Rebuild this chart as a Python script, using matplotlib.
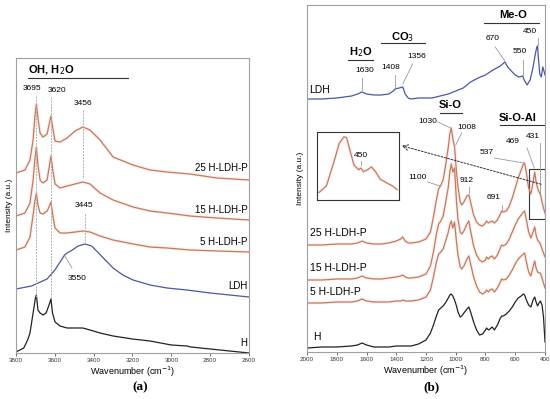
import matplotlib.pyplot as plt
from matplotlib.patches import Rectangle

plt.rcParams['font.family'] = ['Liberation Sans', 'DejaVu Sans']

# ---- panel (a): 3800-2600 cm-1 ----
wn_a = [3800, 3754, 3728, 3712, 3702, 3695, 3687, 3676, 3661, 3640, 3630, 3620, 3609, 3599,
        3573, 3537, 3496, 3456, 3419, 3367, 3300, 3197, 3110, 3022, 2904, 2765, 2600]
a_25 = [180, 183, 193, 213, 238, 249, 235, 220, 216, 219, 228, 237, 223, 212,
        211, 215, 222, 226, 223, 213, 196, 188, 183, 181, 179, 175, 173]
a_15 = [137, 140, 150, 173, 195, 206, 188, 173, 170, 173, 185, 197, 181, 169,
        165, 167, 169, 171, 169, 160, 153, 146, 142, 140, 137, 135, 133]
a_5 = [103, 106, 116, 138, 153, 160, 148, 140, 139, 142, 146, 151, 136, 125,
       120, 120, 121, 122, 121, 117, 113, 109, 106, 105, 103, 102, 101]

wn_a_ldh = [3800, 3720, 3640, 3600, 3573, 3550, 3537, 3510, 3480, 3445, 3410, 3380, 3340,
            3300, 3250, 3197, 3110, 3022, 2920, 2800, 2700, 2600]
a_ldh = [64, 67, 74, 83, 91, 98, 100, 103, 107, 109, 107, 101, 93,
         85, 78, 73, 68, 65, 63, 60, 58, 56]

wn_a_h = [3800, 3760, 3740, 3728, 3712, 3700, 3695, 3687, 3676, 3661, 3645, 3630, 3620, 3612,
          3599, 3573, 3537, 3456, 3419, 3367, 3300, 3200, 3110, 3000, 2920, 2900, 2800, 2700, 2600]
a_h = [1, 5, 13, 20, 40, 55, 58, 43, 40, 38, 40, 48, 54, 40,
       31, 27, 25, 25, 23, 20, 17, 14, 12, 8, 7, 6, 4, 2, 0]

# ---- panel (b): 2000-400 cm-1 ----
wn_b = [2000, 1900, 1800, 1700, 1660, 1630, 1600, 1550, 1500, 1450,
        1400, 1370, 1356, 1340, 1320, 1300, 1250, 1200, 1170, 1150,
        1130, 1115, 1100, 1085, 1070, 1050, 1040, 1030, 1020, 1008,
        995, 985, 970, 960, 945, 925, 912, 900, 880, 860,
        840, 820, 800, 793, 780, 770, 755, 740, 720, 700,
        691, 680, 660, 640, 620, 600, 580, 560, 545, 537,
        525, 510, 495, 480, 469, 460, 450, 440, 431, 420,
        410, 400]
b_25 = [107, 107, 108, 108, 109, 111, 109, 108, 108, 109,
        111, 113, 115, 111, 109, 109, 110, 113, 120, 135,
        152, 163, 167, 172, 185, 205, 218, 224, 214, 205,
        180, 165, 150, 147, 150, 156, 157, 150, 137, 130,
        127, 126, 129, 131, 129, 130, 131, 129, 132, 138,
        141, 140, 141, 146, 154, 164, 174, 182, 188, 189,
        179, 164, 158, 170, 180, 170, 164, 160, 158, 150,
        144, 139]
b_15 = [72, 72, 73, 73, 74, 76, 74, 73, 73, 74,
        75, 76, 77, 75, 74, 74, 75, 78, 86, 100,
        118, 128, 131, 136, 148, 165, 180, 188, 180, 184,
        150, 133, 120, 118, 121, 128, 131, 121, 106, 97,
        92, 90, 92, 95, 93, 95, 96, 93, 97, 104,
        107, 106, 108, 113, 120, 127, 133, 137, 140, 141,
        132, 120, 114, 120, 125, 117, 112, 110, 108, 103,
        99, 95]
b_5 = [49, 49, 50, 50, 51, 53, 51, 50, 50, 50,
       51, 51, 52, 51, 51, 51, 52, 55, 62, 75,
       90, 98, 100, 103, 110, 120, 127, 131, 124, 130,
       110, 97, 85, 83, 86, 93, 96, 88, 75, 66,
       60, 58, 60, 62, 60, 62, 63, 60, 64, 70,
       73, 72, 73, 77, 82, 88, 93, 96, 98, 99,
       90, 80, 76, 85, 91, 84, 80, 79, 79, 74,
       69, 64]
b_h = [4, 5, 5, 6, 7, 9, 7, 5, 5, 5,
       6, 6, 6, 6, 6, 6, 8, 12, 19, 27,
       36, 42, 44, 46, 49, 54, 57, 58, 56, 52,
       46, 40, 35, 36, 39, 43, 45, 40, 30, 22,
       17, 18, 22, 24, 22, 23, 25, 22, 27, 34,
       36, 36, 38, 41, 45, 50, 54, 56, 58, 57,
       52, 47, 45, 52, 55, 50, 46, 49, 51, 47,
       35, 10]

wn_b_ldh = [2000, 1900, 1800, 1700, 1660, 1630, 1600, 1550, 1500, 1450,
            1420, 1408, 1380, 1356, 1340, 1320, 1300, 1250, 1160, 1050,
            950, 900, 850, 800, 750, 700, 670, 650, 620, 600,
            575, 550, 540, 520, 500, 480, 465, 455, 450, 445,
            435, 425, 415, 405, 400]
b_ldh = [253, 253, 254, 256, 258, 260, 258, 257, 257, 258,
         261, 263, 264, 265, 258, 254, 253, 254, 254, 258,
         264, 270, 274, 277, 282, 286, 290, 285, 280, 277,
         275, 276, 272, 267, 272, 285, 298, 305, 306, 295,
         278, 275, 285, 280, 277]

# zoomed detail (25 H-LDH-P, 500-400)
wn_ins = [512, 501, 490, 482, 475, 471, 465, 460, 453, 450, 446, 440, 434, 428, 421, 411, 403, 396]
y_ins = [8, 15, 40, 60, 67, 66, 50, 37, 32, 34, 30, 32, 35, 30, 22, 18, 15, 11]

red = '#c47a5a'
glow = '#f4b4b4'
blue = '#4b56a8'
black = '#222222'
grey = '#9a9a9a'

fig = plt.figure(figsize=(5.5, 3.99), dpi=100)
ax_a = fig.add_axes([0.0291, 0.1153, 0.4236, 0.7393])
ax_b = fig.add_axes([0.5582, 0.1178, 0.4327, 0.8697])


def spectrum(ax, x, y, c, halo=False):
    if halo:
        ax.plot(x, y, color=glow, lw=2.5, alpha=0.2, solid_capstyle='butt')
    ax.plot(x, y, color=c, lw=0.9)


for ax in (ax_a, ax_b):
    ax.set_yticks([])
    ax.tick_params(axis='x', labelsize=4.5, length=2, width=0.5, pad=1.5, colors='#333333')
    for s in ax.spines.values():
        s.set_color('#a0a0a0')
        s.set_linewidth(0.8)
    ax.set_xlabel('Wavenumber (cm$^{-1}$)', fontsize=6.5, labelpad=1)
    ax.set_ylabel('Intensity (a.u.)', fontsize=6, labelpad=2)

# ---------- (a) ----------
spectrum(ax_a, wn_a, a_25, red, True)
spectrum(ax_a, wn_a, a_15, red, True)
spectrum(ax_a, wn_a, a_5, red, True)
spectrum(ax_a, wn_a_ldh, a_ldh, blue)
spectrum(ax_a, wn_a_h, a_h, black)
ax_a.set_xlim(3800, 2600)
ax_a.set_ylim(0, 295)
ax_a.set_xticks([3800, 3600, 3400, 3200, 3000, 2800, 2600])

names_a = ['25 H-LDH-P', '15 H-LDH-P', '5 H-LDH-P', 'LDH', 'H']
name_y_a = [185, 143, 111, 67, 10]
for n, yy in zip(names_a, name_y_a):
    ax_a.text(2607, yy, n, fontsize=7, ha='right', va='center')

dash = dict(color='#b0b0b0', lw=0.7, ls=(0, (2, 1.2)))
ax_a.plot([3695, 3695], [257, 56], **dash)
ax_a.plot([3620, 3620], [256, 54], **dash)
ax_a.plot([3456, 3456], [243, 176], **dash)
ax_a.plot([3445, 3445], [139, 110], **dash)
ax_a.plot([3512, 3548], [85, 97], color=grey, lw=0.6)
ax_a.text(3718, 265, '3695', fontsize=6, ha='center', va='center')
ax_a.text(3589, 263, '3620', fontsize=6, ha='center', va='center')
ax_a.text(3455, 250, '3456', fontsize=6, ha='center', va='center')
ax_a.text(3450, 148, '3445', fontsize=6, ha='center', va='center')
ax_a.text(3486, 75, '3550', fontsize=6, ha='center', va='center')
ax_a.text(3738, 283, 'OH, H$_2$O', fontsize=8, fontweight='bold', ha='left', va='center')
ax_a.plot([3738, 3223], [275, 275], color='#333333', lw=0.8)

# ---------- (b) ----------
spectrum(ax_b, wn_b, b_25, red, True)
spectrum(ax_b, wn_b, b_15, red, True)
spectrum(ax_b, wn_b, b_5, red, True)
spectrum(ax_b, wn_b_ldh, b_ldh, blue)
spectrum(ax_b, wn_b, b_h, black)
ax_b.set_xlim(2000, 400)
ax_b.set_ylim(0, 347)
ax_b.set_xticks([2000, 1800, 1600, 1400, 1200, 1000, 800, 600, 400])

names_b = ['LDH', '25 H-LDH-P', '15 H-LDH-P', '5 H-LDH-P', 'H']
name_y_b = [262, 119, 84, 60, 15]
name_x_b = [1987, 1980, 1980, 1980, 1960]
for n, xx, yy in zip(names_b, name_x_b, name_y_b):
    ax_b.text(xx, yy, n, fontsize=7.5, ha='left', va='center')

groups = [('H$_2$O', 1637, 300, 1724, 1556, 292),
          ('CO$_3$', 1361, 315, 1503, 1207, 309),
          ('Me-O', 615, 337, 810, 440, 329),
          ('Si-O', 1039, 247, 1106, 958, 239),
          ('Si-O-Al', 582, 234, 703, 400, 227)]
for txt, tx, ty, x0, x1, uy in groups:
    ax_b.text(tx, ty, txt, fontsize=8, fontweight='bold', ha='center', va='center')
    ax_b.plot([x0, x1], [uy, uy], color='#333333', lw=0.8)

peaks = [('1630', 1615, 281, [1630, 1630], [274, 262]),
         ('1408', 1435, 284, [1408, 1408], [277, 264]),
         ('1356', 1260, 295, [1290, 1356], [288, 268]),
         ('670', 750, 313, [735, 670], [305, 291]),
         ('550', 568, 300, [550, 550], [292, 277]),
         ('450', 501, 320, [450, 450], [314, 307]),
         ('1030', 1187, 230, [1120, 1035], [230, 224]),
         ('1008', 924, 224, [960, 1000], [219, 207]),
         ('1100', 1254, 174, [1190, 1105], [170, 166]),
         ('912', 924, 171, [912, 912], [165, 159]),
         ('691', 746, 154, [691, 691], [147, 142]),
         ('537', 790, 199, [740, 545], [194, 189]),
         ('469', 615, 210, [521, 472], [204, 184]),
         ('431', 481, 215, [431, 431], [209, 159])]
for txt, tx, ty, lx, ly in peaks:
    ax_b.text(tx, ty, txt, fontsize=6, ha='center', va='center')
    ax_b.plot(lx, ly, color=grey, lw=0.6)

ax_b.add_patch(Rectangle((505, 133), -105, 50, fill=False, ec='#333333', lw=0.8))
ax_b.annotate('', xy=(1381, 207), xytext=(407, 167),
              arrowprops=dict(arrowstyle='->', ls=(0, (2, 1.5)), color='#333333', lw=0.7))

ax_in = fig.add_axes([0.5764, 0.4987, 0.1491, 0.1704])
ax_in.plot(wn_ins, y_ins, color=glow, lw=2.5, alpha=0.2)
ax_in.plot(wn_ins, y_ins, color=red, lw=0.9)
ax_in.set_xlim(515, 393)
ax_in.set_ylim(0, 72)
ax_in.set_xticks([])
ax_in.set_yticks([])
for s in ax_in.spines.values():
    s.set_color('#333333')
    s.set_linewidth(0.8)
ax_in.text(450, 47, '450', fontsize=6, ha='center', va='center')
ax_in.plot([450, 450], [41, 37], color=grey, lw=0.6)

fig.text(0.255, 0.03, '(a)', fontsize=9.5, fontweight='bold', family='Liberation Serif', ha='center', va='center')
fig.text(0.785, 0.03, '(b)', fontsize=9.5, fontweight='bold', family='Liberation Serif', ha='center', va='center')

fig.savefig('out.png', dpi=100)
